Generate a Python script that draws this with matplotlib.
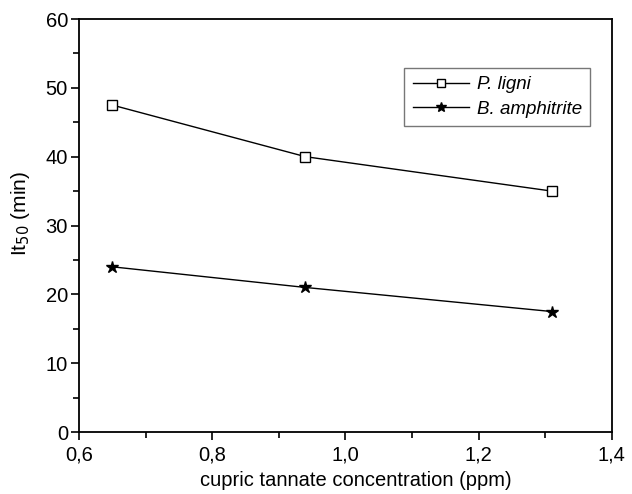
import matplotlib
matplotlib.use("Agg")
import matplotlib.pyplot as plt
from matplotlib.ticker import MultipleLocator, FuncFormatter

# datos
conc = [0.65, 0.94, 1.31]
p_ligni = [47.5, 40.0, 35.0]
b_amphitrite = [24.0, 21.0, 17.5]

plt.rcParams['font.family'] = ['Liberation Sans', 'DejaVu Sans']

fig = plt.figure(figsize=(6.32, 4.94), dpi=100)
ax = fig.add_axes([0.125, 0.1255, 0.843, 0.836])

ax.plot(conc, p_ligni, marker='s', markersize=7, markerfacecolor='white',
        markeredgecolor='black', color='black', linewidth=1, label='P. ligni')
ax.plot(conc, b_amphitrite, marker='*', markersize=9, color='black',
        linewidth=1, label='B. amphitrite')

ax.set_xlim(0.6, 1.4)
ax.set_ylim(0, 60)
ax.xaxis.set_major_locator(MultipleLocator(0.2))
ax.xaxis.set_minor_locator(MultipleLocator(0.1))
ax.yaxis.set_major_locator(MultipleLocator(10))
ax.yaxis.set_minor_locator(MultipleLocator(5))
ax.xaxis.set_major_formatter(FuncFormatter(lambda v, p: f"{v:.1f}".replace('.', ',')))

ax.tick_params(which='both', direction='out', top=False, right=False,
               labelsize=14.5, width=1.2, pad=2)
ax.tick_params(axis='x', which='major', pad=4)
ax.tick_params(which='major', length=6)
ax.tick_params(which='minor', length=4)
for s in ax.spines.values():
    s.set_linewidth(1.3)

ax.set_xlabel("cupric tannate concentration (ppm)", fontsize=14.5)
ax.xaxis.set_label_coords(0.52, -0.094)
ax.set_ylabel("It$_{50}$ (min)", fontsize=15)
ax.yaxis.set_label_coords(-0.088, 0.53)

leg = ax.legend(loc='upper right', bbox_to_anchor=(0.977, 0.905), fancybox=False,
                edgecolor='#555555', prop={'style': 'italic', 'size': 13.5},
                handlelength=3.0, handletextpad=0.4, borderpad=0.45,
                labelspacing=0.4, markerscale=0.85)
leg.get_frame().set_linewidth(1.0)

fig.savefig("out.png", dpi=100)
